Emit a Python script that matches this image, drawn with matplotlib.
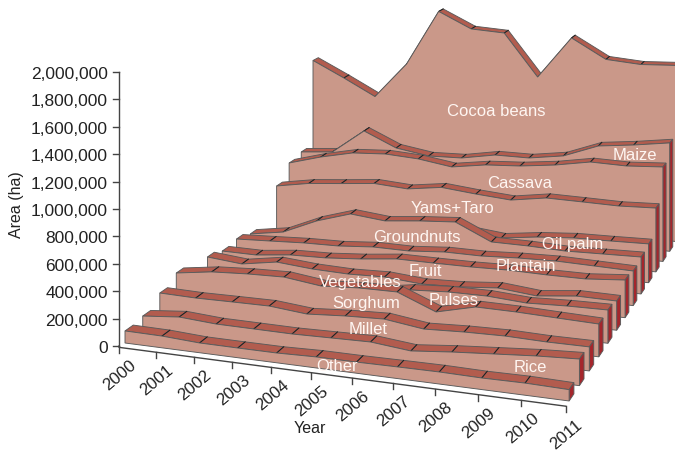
#!/usr/bin/env python
import numpy as np
import matplotlib
matplotlib.use("Agg")
import matplotlib.pyplot as plt

plt.rcParams['font.family'] = ['Liberation Sans', 'DejaVu Sans']

years = [2000, 2001, 2002, 2003, 2004, 2005, 2006, 2007, 2008, 2009, 2010, 2011]
y_ticks = [0, 200000, 400000, 600000, 800000, 1000000, 1200000, 1400000, 1600000, 1800000, 2000000]

# area per crop in thousand hectares, front row first
other = [88, 85, 70, 69, 69, 77, 77, 80, 82, 78, 81, 75]
rice = [105, 131, 113, 111, 109, 115, 121, 93, 121, 143, 165, 180]
millet = [188, 182, 185, 187, 161, 180, 191, 153, 166, 172, 165, 166]
sorghum = [254, 293, 308, 315, 279, 296, 298, 184, 253, 250, 240, 231]
pulses = [140, 150, 150, 160, 170, 180, 225, 242, 243, 224, 235, 239]
vegetables = [211, 185, 230, 206, 197, 205, 182, 191, 215, 187, 218, 214]
fruit = [176, 173, 203, 209, 230, 260, 258, 258, 264, 258, 258, 281]
plantain = [193, 205, 218, 222, 243, 240, 261, 259, 273, 279, 271, 263]
groundnuts = [155, 199, 319, 404, 374, 401, 420, 288, 285, 274, 280, 286]
oil_palm = [50, 100, 200, 250, 270, 280, 270, 239, 275, 296, 300, 306]
yams_taro = [412, 459, 483, 509, 488, 526, 496, 472, 515, 509, 502, 512]
cassava = [542, 618, 677, 691, 672, 627, 668, 683, 715, 764, 755, 771]
maize = [571, 594, 803, 675, 628, 634, 683, 681, 722, 829, 860, 900]
cocoa = [1337, 1196, 1047, 1358, 1842, 1702, 1682, 1315, 1671, 1503, 1477, 1487]

rows = [other, rice, millet, sorghum, pulses, vegetables, fruit, plantain,
        groundnuts, oil_palm, yams_taro, cassava, maize, cocoa]

# crop names and where they sit on the ribbons
labels = ["Cocoa beans", "Maize", "Cassava", "Yams+Taro", "Groundnuts", "Oil palm", "Plantain",
          "Fruit", "Vegetables", "Pulses", "Sorghum", "Millet", "Rice", "Other"]
label_x = [496, 635, 520, 453, 417, 573, 526, 425, 360, 454, 366, 368, 530, 337]
label_y = [112, 156, 184, 209, 238, 245, 267, 272, 283, 301, 304, 330, 368, 367]

FACE = "#ca9889"
TOP = "#b25c4e"
SIDE = "#a5262c"
EDGE = "#5a5a5a"
LW = 0.65
STRIP = 0.46


def project(year, row, area):
    # perspective view of (year index, row index, area in ha) on the page
    u = np.asarray(year) / 11.0
    v = np.asarray(row) / 13.0
    w = 1 - 0.093 * u + 0.25 * v
    x = (125 + 391.2 * u + 266.25 * v) / w
    y = (344 + 20.6 * u - 84 * v) / w - np.asarray(area) * 137e-6 / w
    return x, y


fig = plt.figure(figsize=(6.75, 4.52), dpi=100)
ax = fig.add_axes([0, 0, 1, 1])
ax.set_xlim(0, 675)
ax.set_ylim(452, 0)
ax.axis("off")

idx = np.arange(12)
z = 1
# paint from the back row forwards so nearer ribbons cover the farther ones
for k in range(len(rows) - 1, -1, -1):
    vals = np.array(rows[k]) * 1000.0
    fx, fy = project(idx, k, vals)
    bx, by = project(idx, k + STRIP, vals)
    gx, gy = project(idx, k, 0)

    # top strip, one piece per year
    for i in range(11):
        ax.fill([fx[i], fx[i + 1], bx[i + 1], bx[i]], [fy[i], fy[i + 1], by[i + 1], by[i]],
                facecolor=TOP, edgecolor=EDGE, linewidth=LW, zorder=z)
        z += 1
    for i in range(1, 11):
        ax.plot([fx[i], bx[i]], [fy[i], by[i]], color="#1c1c1c", linewidth=0.65, zorder=z)
    z += 1

    # right hand end of the ribbon
    sx, sy = project(11, k + STRIP, 0)
    ax.fill([fx[-1], bx[-1], sx, gx[-1]], [fy[-1], by[-1], sy, gy[-1]],
            facecolor=SIDE, edgecolor=EDGE, linewidth=LW, zorder=z)
    z += 1

    # front face down to the floor
    ax.fill(np.r_[gx[0], fx, gx[-1]], np.r_[gy[0], fy, gy[-1]],
            facecolor=FACE, edgecolor=EDGE, linewidth=LW, zorder=z)
    z += 1

# axes sit just in front of the first row
AXIS_ROW = -0.33
ax0, ay0 = project(0, AXIS_ROW, 0)
yty = 347 - np.array(y_ticks) * 137e-6
ax.plot([ax0, ax0], [yty[0], yty[-1]], color="#444444", linewidth=1.0, zorder=z)
for val, ty in zip(y_ticks, yty):
    ax.plot([ax0 - 6, ax0], [ty, ty], color="#444444", linewidth=1.0, zorder=z)
    ax.text(ax0 - 11, ty + 1.5, f"{val:,}", ha="right", va="center", fontsize=12.5, color="#222222", zorder=z)

xtx, xty = project(idx, AXIS_ROW, 0)
ax.plot(np.r_[ax0, xtx], np.r_[347, xty], color="#444444", linewidth=1.0, zorder=z)
for yr, tx, ty in zip(years, xtx, xty):
    ax.plot([tx, tx], [ty, ty + 6], color="#444444", linewidth=1.0, zorder=z)
    ax.text(tx + 1, ty + 27.5, str(yr), ha="center", va="center", rotation=40,
            rotation_mode="anchor", fontsize=12.2, color="#222222", zorder=z)

ax.text(16, 205, "Area (ha)", rotation=90, ha="center", va="center", fontsize=11.5, color="#222222")
ax.text(310, 429, "Year", ha="center", va="center", fontsize=11.5, color="#222222")

for name, lx, ly in zip(labels, label_x, label_y):
    ax.text(lx, ly, name, ha="center", va="center", fontsize=12, color="#fff6f2", zorder=z + 1)

fig.savefig("out.png", dpi=100)
